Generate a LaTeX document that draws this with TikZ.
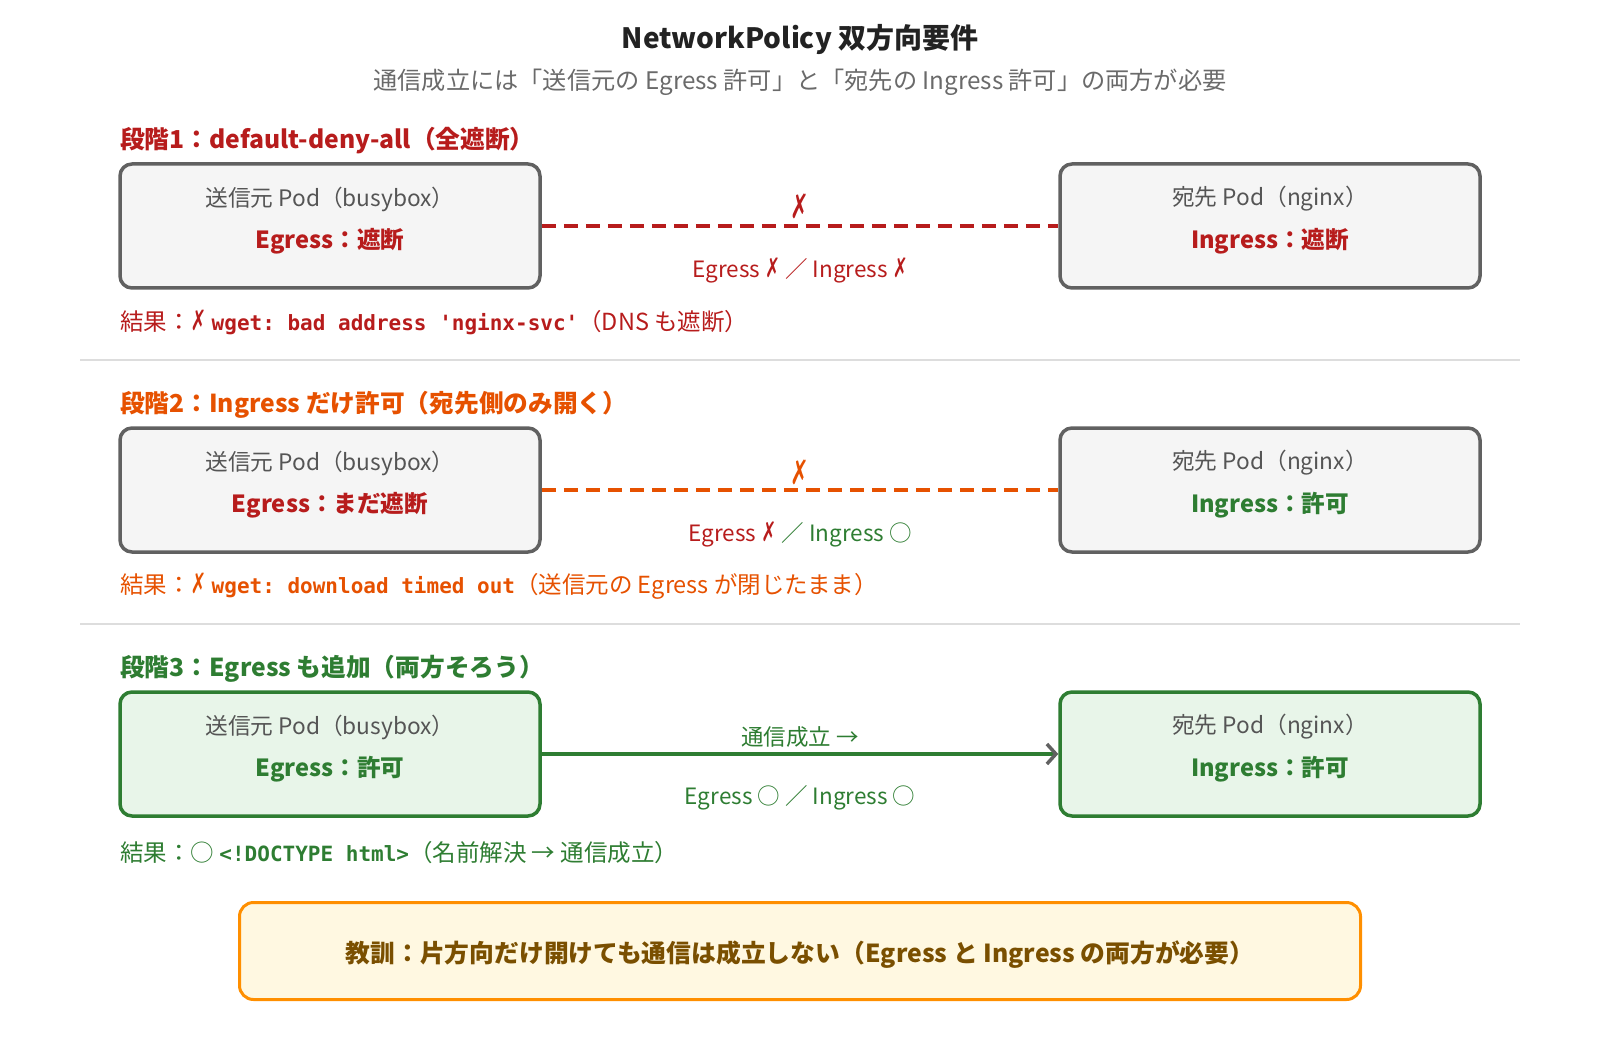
\documentclass[tikz,border=0pt]{standalone}
\usepackage{fontspec}
\setmainfont{Noto Sans CJK JP}
\setmonofont{DejaVu Sans Mono}
\newfontfamily\symf{DejaVu Sans}
\usetikzlibrary{arrows.meta}
\newcommand\fsz[1]{\fontsize{#1}{#1}\selectfont}
\newcommand\crossmk{{\symf\scalebox{0.8}[1.2]{✗}}}
\newcommand\codetxt[1]{{\fsz{21}\ttfamily\bfseries #1}}
\definecolor{cred}{HTML}{B71C1C}
\definecolor{corange}{HTML}{E65100}
\definecolor{cgreen}{HTML}{2E7D32}
\definecolor{boxgray}{HTML}{616161}
\definecolor{podfill}{HTML}{F5F5F5}
\definecolor{greenfill}{HTML}{E8F5E9}
\definecolor{txtgray}{HTML}{555555}
\definecolor{subgray}{HTML}{6A6A6A}
\definecolor{sepgray}{HTML}{DDDDDD}
\definecolor{lessonfill}{HTML}{FFF8E1}
\definecolor{lessonborder}{HTML}{FF8F00}
\definecolor{lessontext}{HTML}{7A4F00}
\definecolor{titlecol}{HTML}{222222}
\tikzset{
  txt/.style={inner sep=0pt, yshift=-2pt},
  podbox/.style={draw=boxgray, line width=3.5pt, rounded corners=12pt, fill=podfill, minimum width=420pt, minimum height=124pt, inner sep=0pt},
  okbox/.style={podbox, draw=cgreen, fill=greenfill},
  heading/.style={txt, anchor=west, font=\fsz{24.7}\bfseries},
  podname/.style={txt, text=txtgray, font=\fsz{22.7}},
  podstate/.style={txt, font=\fsz{23.6}\bfseries},
  result/.style={txt, anchor=west, font=\fsz{23.5}},
  linelabel/.style={txt, font=\fsz{22.5}},
  xmark/.style={txt, font=\fsz{28}},
  sepline/.style={draw=sepgray, line width=1.5pt},
  blockline/.style={line width=3.5pt, dash pattern=on 14pt off 8pt}
}
\begin{document}
\begin{tikzpicture}[x=1pt, y=-1pt]
\useasboundingbox (0,0) rectangle (1600,1040);
% title
\node[txt, text=titlecol, font=\fsz{28}\bfseries] (title) at (800,38) {NetworkPolicy 双方向要件};
\node[txt, text=subgray, font=\fsz{24.2}] (subtitle) at (800,80) {通信成立には「送信元の Egress 許可」と「宛先の Ingress 許可」の両方が必要};

% ---------- stage 1
\node[heading, text=cred] (h1) at (120,139) {段階1：default-deny-all（全遮断）};
\node[podbox] (s1) at (330,226) {};
\node[podbox] (d1) at (1270,226) {};
\node[podname] (s1a) at (330,197) {送信元 Pod（busybox）};
\node[podstate, text=cred] (s1b) at (330,239) {Egress：遮断};
\node[podname] (d1a) at (1270,197) {宛先 Pod（nginx）};
\node[podstate, text=cred] (d1b) at (1270,239) {Ingress：遮断};
\draw[blockline, draw=cred] (s1.east) -- (d1.west);
\node[xmark, text=cred] (x1) at (800,204) {\crossmk};
\node[linelabel, text=cred] (l1) at (800,268) {Egress \crossmk{} ／ Ingress \crossmk};
\node[result, text=cred] (r1) at (120,320) {結果：\crossmk{} \codetxt{wget: bad address 'nginx-svc'}（DNS も遮断）};
\coordinate (sep1a) at (80,360);
\coordinate (sep1b) at (1520,360);
\draw[sepline] (sep1a) -- (sep1b);

% ---------- stage 2
\node[heading, text=corange] (h2) at (120,403) {段階2：Ingress だけ許可（宛先側のみ開く）};
\node[podbox] (s2) at (330,490) {};
\node[podbox] (d2) at (1270,490) {};
\node[podname] (s2a) at (330,461) {送信元 Pod（busybox）};
\node[podstate, text=cred] (s2b) at (330,503) {Egress：まだ遮断};
\node[podname] (d2a) at (1270,461) {宛先 Pod（nginx）};
\node[podstate, text=cgreen] (d2b) at (1270,503) {Ingress：許可};
\draw[blockline, draw=corange] (s2.east) -- (d2.west);
\node[xmark, text=corange] (x2) at (800,470) {\crossmk};
\node[linelabel] (l2) at (800,532) {\textcolor{cred}{Egress \crossmk} \textcolor{cgreen}{／ Ingress ○}};
\node[result, text=corange] (r2) at (120,584) {結果：\crossmk{} \codetxt{wget: download timed out}（送信元の Egress が閉じたまま）};
\coordinate (sep2a) at (80,624);
\coordinate (sep2b) at (1520,624);
\draw[sepline] (sep2a) -- (sep2b);

% ---------- stage 3
\node[heading, text=cgreen] (h3) at (120,667) {段階3：Egress も追加（両方そろう）};
\node[okbox] (s3) at (330,754) {};
\node[okbox] (d3) at (1270,754) {};
\node[podname] (s3a) at (330,725) {送信元 Pod（busybox）};
\node[podstate, text=cgreen] (s3b) at (330,767) {Egress：許可};
\node[podname] (d3a) at (1270,725) {宛先 Pod（nginx）};
\node[podstate, text=cgreen] (d3b) at (1270,767) {Ingress：許可};
\draw[line width=3.5pt, draw=cgreen, -{Straight Barb[color=boxgray, length=9pt, width=20pt, line width=3.5pt]}] (s3.east) -- (d3.west);
\node[linelabel, text=cgreen] (l3a) at (800,735) {通信成立 →};
\node[linelabel, text=cgreen] (l3b) at (800,796) {Egress ○ ／ Ingress ○};
\node[result, text=cgreen] (r3) at (120,851) {結果：○ \codetxt{<!DOCTYPE html>}（名前解決 → 通信成立）};

% ---------- lesson
\node[draw=lessonborder, line width=3pt, fill=lessonfill, rounded corners=14pt, minimum width=1121pt, minimum height=97pt, inner sep=0pt] (lesson) at (800,951) {};
\node[txt, yshift=-2pt, text=lessontext, font=\fsz{24.8}\bfseries] (lessontxt) at (lesson.center) {教訓：片方向だけ開けても通信は成立しない（Egress と Ingress の両方が必要）};
\end{tikzpicture}
\end{document}
